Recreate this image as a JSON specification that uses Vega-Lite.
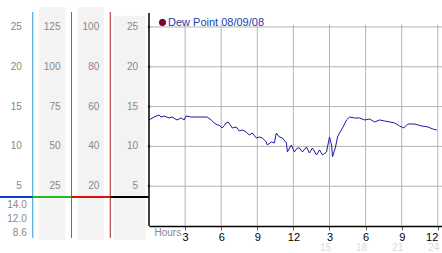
{
  "$schema": "https://vega.github.io/schema/vega-lite/v6.json",
  "padding": {"left": 0, "top": 7, "right": 0, "bottom": 0},
  "spacing": 0,
  "bounds": "flush",
  "config": {"view": {"stroke": null}, "font": "Liberation Sans", "concat": {"spacing": 0}},
  "datasets": {
    "cols": [{"col": "c1"}, {"col": "c2"}, {"col": "c3"}, {"col": "c4"}],
    "labels": [
      {"col": "c1", "value": 5}, {"col": "c1", "value": 10}, {"col": "c1", "value": 15}, {"col": "c1", "value": 20}, {"col": "c1", "value": 25},
      {"col": "c2", "value": 25}, {"col": "c2", "value": 50}, {"col": "c2", "value": 75}, {"col": "c2", "value": 100}, {"col": "c2", "value": 125},
      {"col": "c3", "value": 20}, {"col": "c3", "value": 40}, {"col": "c3", "value": 60}, {"col": "c3", "value": 80}, {"col": "c3", "value": 100},
      {"col": "c4", "value": 5}, {"col": "c4", "value": 10}, {"col": "c4", "value": 15}, {"col": "c4", "value": 20}, {"col": "c4", "value": 25}
    ],
    "stats": [{"stat": "max", "label": "14.0"}, {"stat": "avg", "label": "12.0"}, {"stat": "min", "label": "8.6"}],
    "hgrid": [{"v": 5}, {"v": 10}, {"v": 15}, {"v": 20}, {"v": 25}],
    "vgrid": [{"h": 3}, {"h": 6}, {"h": 9}, {"h": 12}, {"h": 15}, {"h": 18}, {"h": 21}, {"h": 24}],
    "pm": [{"h": 15}, {"h": 18}, {"h": 21}, {"h": 24}],
    "dew": [
      {"h": 0, "v": 13.32}, {"h": 0.42, "v": 13.69}, {"h": 0.83, "v": 13.94}, {"h": 1.0, "v": 13.69}, {"h": 1.25, "v": 13.82},
      {"h": 1.67, "v": 13.57}, {"h": 1.92, "v": 13.69}, {"h": 2.33, "v": 13.32}, {"h": 2.67, "v": 13.57}, {"h": 2.92, "v": 13.32},
      {"h": 3.08, "v": 13.82}, {"h": 3.5, "v": 13.69}, {"h": 4.0, "v": 13.69}, {"h": 4.83, "v": 13.69}, {"h": 5.17, "v": 13.32},
      {"h": 5.42, "v": 12.94}, {"h": 5.67, "v": 12.69}, {"h": 5.83, "v": 12.69}, {"h": 6.08, "v": 12.31}, {"h": 6.42, "v": 12.94},
      {"h": 6.58, "v": 13.07}, {"h": 6.92, "v": 12.31}, {"h": 7.25, "v": 12.44}, {"h": 7.5, "v": 11.93}, {"h": 7.75, "v": 12.06},
      {"h": 8.08, "v": 11.81}, {"h": 8.33, "v": 11.43}, {"h": 8.58, "v": 11.68}, {"h": 8.92, "v": 11.06}, {"h": 9.17, "v": 11.18},
      {"h": 9.42, "v": 11.06}, {"h": 9.75, "v": 10.55}, {"h": 9.83, "v": 10.18}, {"h": 10.17, "v": 10.55}, {"h": 10.42, "v": 10.43},
      {"h": 10.58, "v": 11.68}, {"h": 10.83, "v": 11.18}, {"h": 11.08, "v": 11.06}, {"h": 11.42, "v": 10.43}, {"h": 11.5, "v": 9.3},
      {"h": 11.83, "v": 10.18}, {"h": 12.08, "v": 9.3}, {"h": 12.33, "v": 9.8}, {"h": 12.5, "v": 9.8}, {"h": 12.75, "v": 9.3},
      {"h": 13.08, "v": 9.92}, {"h": 13.33, "v": 9.17}, {"h": 13.58, "v": 9.8}, {"h": 13.92, "v": 8.92}, {"h": 14.17, "v": 9.55},
      {"h": 14.42, "v": 8.92}, {"h": 14.75, "v": 9.3}, {"h": 15.0, "v": 11.18}, {"h": 15.17, "v": 10.18}, {"h": 15.25, "v": 8.7},
      {"h": 15.5, "v": 9.92}, {"h": 15.67, "v": 11.18}, {"h": 15.83, "v": 11.68}, {"h": 16.08, "v": 12.31}, {"h": 16.42, "v": 13.32},
      {"h": 16.67, "v": 13.69}, {"h": 17.08, "v": 13.57}, {"h": 17.5, "v": 13.57}, {"h": 17.92, "v": 13.32}, {"h": 18.33, "v": 13.44},
      {"h": 18.75, "v": 13.07}, {"h": 19.17, "v": 13.32}, {"h": 19.58, "v": 13.19}, {"h": 20.0, "v": 13.07}, {"h": 20.42, "v": 12.94},
      {"h": 20.83, "v": 12.56}, {"h": 21.17, "v": 12.31}, {"h": 21.5, "v": 12.81}, {"h": 22.08, "v": 12.81}, {"h": 22.67, "v": 12.56},
      {"h": 23.17, "v": 12.44}, {"h": 23.58, "v": 12.19}, {"h": 23.92, "v": 12.06}
    ]
  },
  "hconcat": [
    {
      "width": 149,
      "height": 233,
      "resolve": {"scale": {"y": "independent", "color": "independent"}},
      "layer": [
        {
          "data": {"name": "cols"},
          "transform": [{"filter": "datum.col == 'c2' || datum.col == 'c3'"}],
          "mark": {"type": "bar", "color": "#f3f3f3", "width": {"band": 0.68}},
          "encoding": {
            "x": {"field": "col", "type": "nominal", "axis": null, "scale": {"domain": ["c1", "c2", "c3", "c4"], "range": [-6, 149], "paddingInner": 0, "paddingOuter": 0}},
            "y": {"datum": 27.51, "type": "quantitative", "axis": null, "scale": {"domain": [-1.76, 27.51], "nice": false, "zero": false}},
            "y2": {"datum": -1.76}
          }
        },
        {
          "data": {"name": "cols"},
          "transform": [{"filter": "datum.col == 'c4'"}],
          "mark": {"type": "bar", "color": "#f3f3f3", "width": {"band": 0.82}},
          "encoding": {
            "x": {"field": "col", "type": "nominal", "axis": null},
            "y": {"datum": 26.4, "type": "quantitative", "axis": null, "scale": {"domain": [-1.76, 27.51], "nice": false, "zero": false}},
            "y2": {"datum": -1.76}
          }
        },
        {
          "data": {"name": "cols"},
          "transform": [{"filter": "datum.col != 'c4'"}],
          "mark": {"type": "rule", "strokeWidth": 1},
          "encoding": {
            "x": {"field": "col", "type": "nominal", "axis": null, "bandPosition": 1},
            "y": {"datum": 26.88, "type": "quantitative", "axis": null, "scale": {"domain": [-1.76, 27.51], "nice": false, "zero": false}},
            "y2": {"datum": -1.5},
            "color": {"field": "col", "type": "nominal", "legend": null, "scale": {"domain": ["c1", "c2", "c3"], "range": ["#2a9ad6", "#22a322", "#a82020"]}}
          }
        },
        {
          "data": {"name": "cols"},
          "mark": {"type": "tick", "thickness": 2, "size": 39, "clip": true, "opacity": 1},
          "encoding": {
            "x": {"field": "col", "type": "nominal", "axis": null},
            "y": {"datum": 3.64, "type": "quantitative", "axis": null, "scale": {"domain": [-1.76, 27.51], "nice": false, "zero": false}},
            "color": {"field": "col", "type": "nominal", "legend": null, "scale": {"domain": ["c1", "c2", "c3", "c4"], "range": ["#0a3fd8", "#22bb22", "#e01010", "#000000"]}}
          }
        },
        {
          "data": {"name": "labels"},
          "transform": [{"filter": "datum.col == 'c1' || datum.col == 'c4'"}],
          "mark": {"type": "text", "align": "right", "baseline": "middle", "dx": -11, "fontSize": 10, "color": "#888888"},
          "encoding": {
            "x": {"field": "col", "type": "nominal", "axis": null, "bandPosition": 1},
            "y": {"field": "value", "type": "quantitative", "axis": null, "scale": {"domain": [-1.76, 27.51], "nice": false, "zero": false}},
            "text": {"field": "value", "type": "quantitative"}
          }
        },
        {
          "data": {"name": "labels"},
          "transform": [{"filter": "datum.col == 'c2'"}],
          "mark": {"type": "text", "align": "right", "baseline": "middle", "dx": -11, "fontSize": 10, "color": "#888888"},
          "encoding": {
            "x": {"field": "col", "type": "nominal", "axis": null, "bandPosition": 1},
            "y": {"field": "value", "type": "quantitative", "axis": null, "scale": {"domain": [-8.8, 137.55], "nice": false, "zero": false}},
            "text": {"field": "value", "type": "quantitative"}
          }
        },
        {
          "data": {"name": "labels"},
          "transform": [{"filter": "datum.col == 'c3'"}],
          "mark": {"type": "text", "align": "right", "baseline": "middle", "dx": -11, "fontSize": 10, "color": "#888888"},
          "encoding": {
            "x": {"field": "col", "type": "nominal", "axis": null, "bandPosition": 1},
            "y": {"field": "value", "type": "quantitative", "axis": null, "scale": {"domain": [-7.04, 110.04], "nice": false, "zero": false}},
            "text": {"field": "value", "type": "quantitative"}
          }
        },
        {
          "data": {"name": "labels"},
          "transform": [{"filter": "datum.col == 'c4'"}],
          "mark": {"type": "point", "shape": "cross", "angle": 45, "size": 10, "filled": true, "color": "#444444", "dx": -2},
          "encoding": {
            "x": {"field": "col", "type": "nominal", "axis": null, "bandPosition": 1},
            "y": {"field": "value", "type": "quantitative", "axis": null, "scale": {"domain": [-1.76, 27.51], "nice": false, "zero": false}}
          }
        },
        {
          "data": {"name": "stats"},
          "mark": {"type": "text", "align": "right", "baseline": "middle", "dx": -6, "fontSize": 10, "color": "#888888"},
          "encoding": {
            "x": {"datum": "c1", "type": "nominal", "axis": null, "bandPosition": 1},
            "y": {"field": "stat", "type": "ordinal", "axis": null, "scale": {"type": "point", "domain": ["max", "avg", "min"], "range": [198, 226], "padding": 0}},
            "text": {"field": "label", "type": "nominal"}
          }
        }
      ]
    },
    {
      "width": 293,
      "height": 219,
      "layer": [
        {
          "data": {"name": "hgrid"},
          "mark": {"type": "rule", "color": "#b4b4b4", "strokeWidth": 1},
          "encoding": {
            "y": {"field": "v", "type": "quantitative", "axis": null, "scale": {"domain": [0, 27.51], "nice": false, "zero": false}}
          }
        },
        {
          "data": {"name": "vgrid"},
          "mark": {"type": "rule", "color": "#b4b4b4", "strokeWidth": 1},
          "encoding": {
            "x": {
              "field": "h", "type": "quantitative",
              "scale": {"domain": [0, 24.35], "nice": false, "zero": false},
              "axis": {
                "values": [3, 6, 9, 12, 15, 18, 21, 24],
                "labelExpr": "datum.value > 12 ? datum.value - 12 : datum.value",
                "grid": false,
                "domain": true, "domainColor": "#000000", "domainWidth": 1.5,
                "ticks": true, "tickSize": 4, "tickColor": "#666666",
                "labelColor": "#000000", "labelFontSize": 11, "labelFont": "Liberation Sans", "labelPadding": 1, "labelFlush": false,
                "labelAlign": {"expr": "datum.value == 24 ? 'right' : 'center'"},
                "title": "Hours", "titleColor": "#888888", "titleFontWeight": "normal", "titleFontSize": 10, "titleFont": "Liberation Sans",
                "titleAnchor": "start", "titleAlign": "left", "titleBaseline": "alphabetic", "titleX": 5, "titleY": 9
              }
            },
            "y": {"datum": 25.3, "type": "quantitative", "axis": null},
            "y2": {"datum": 0}
          }
        },
        {
          "data": {"name": "pm"},
          "mark": {"type": "text", "color": "#dadada", "fontSize": 10, "dx": -4, "baseline": "middle"},
          "encoding": {
            "x": {"field": "h", "type": "quantitative"},
            "y": {"datum": -2.75, "type": "quantitative", "axis": null},
            "text": {"field": "h", "type": "quantitative"}
          }
        },
        {
          "data": {"name": "dew"},
          "mark": {"type": "line", "strokeWidth": 1, "interpolate": "linear"},
          "encoding": {
            "x": {"field": "h", "type": "quantitative"},
            "y": {"field": "v", "type": "quantitative", "axis": null},
            "color": {
              "datum": "Dew Point 08/09/08", "type": "nominal",
              "scale": {"range": ["#1a1aa6"]},
              "legend": {
                "title": null, "orient": "none", "legendX": 157, "legendY": 10, "padding": 0,
                "labelColor": "#2040b0", "labelFontSize": 11, "labelFont": "Liberation Sans", "labelOffset": 0,
                "symbolType": "circle", "symbolSize": 40,
                "encode": {"symbols": {"update": {"fill": {"value": "#990000"}, "stroke": {"value": "#440000"}, "strokeWidth": {"value": 1}, "opacity": {"value": 1}}}}
              }
            }
          }
        },
        {
          "data": {"values": [{}]},
          "mark": {"type": "rule", "color": "#000000", "strokeWidth": 1.5},
          "encoding": {
            "x": {"datum": 0, "type": "quantitative"},
            "y": {"datum": 26.75, "type": "quantitative", "axis": null},
            "y2": {"datum": 0}
          }
        }
      ]
    }
  ]
}
